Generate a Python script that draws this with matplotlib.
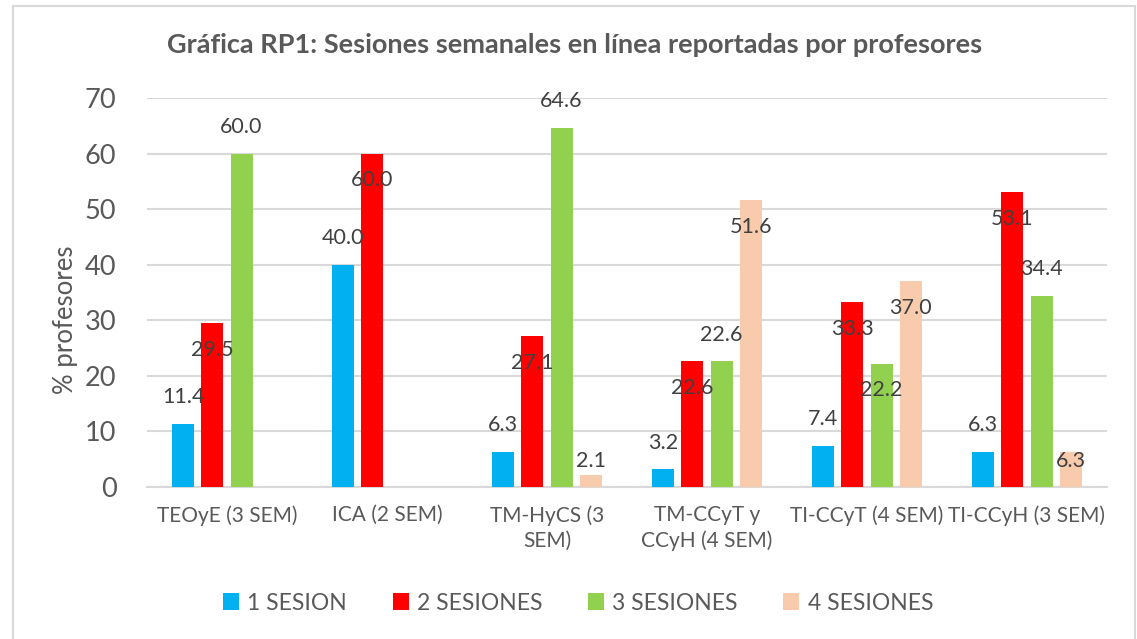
import numpy as np
import matplotlib
matplotlib.use("Agg")
import matplotlib.pyplot as plt
from matplotlib.lines import Line2D

plt.rcParams['font.family'] = ['Lato', 'DejaVu Sans']

categorias = ['TEOyE (3 SEM)', 'ICA (2 SEM)', 'TM-HyCS (3\nSEM)', 'TM-CCyT y\nCCyH (4 SEM)',
              'TI-CCyT (4 SEM)', 'TI-CCyH (3 SEM)']
series = ['1 SESION', '2 SESIONES', '3 SESIONES', '4 SESIONES']
una_sesion = [11.4, 40.0, 6.3, 3.2, 7.4, 6.3]
dos_sesiones = [29.5, 60.0, 27.1, 22.6, 33.3, 53.1]
tres_sesiones = [60.0, np.nan, 64.6, 22.6, 22.2, 34.4]
cuatro_sesiones = [np.nan, np.nan, 2.1, 51.6, 37.0, 6.3]
valores = [una_sesion, dos_sesiones, tres_sesiones, cuatro_sesiones]

colores = ['#00B0F0', '#FF0000', '#92D050', '#F8CBAD']
# +1 etiqueta arriba de la barra, -1 debajo del borde superior
posicion = [[1, 1, 1, 1, 1, 1],
            [-1, -1, -1, -1, -1, -1],
            [1, 1, 1, 1, -1, 1],
            [1, 1, -1, -1, -1, -1]]

gris = '#595959'
fig = plt.figure(figsize=(11.37, 6.39), dpi=100)
ax = fig.add_axes([147 / 1137, 1 - 487 / 639, 960 / 1137, 389 / 639])

x = np.arange(len(categorias))
paso = 0.182
ancho = 0.138
for i, (vals, col) in enumerate(zip(valores, colores)):
    xs = x + (i - 1.5) * paso
    v = np.array(vals)
    ok = ~np.isnan(v)
    ax.bar(xs[ok], v[ok], width=ancho, color=col, label=series[i], zorder=3)
    for xi, vi, p in zip(xs[ok], v[ok], np.array(posicion[i])[ok]):
        y = vi + p * 4.8
        y = max(y, 4.7)
        ax.text(xi, y, f'{vi:.1f}', ha='center', va='center', fontsize=15.5,
                color='#404040', zorder=4)

ax.set_xlim(-0.5, len(categorias) - 0.5)
ax.set_ylim(0, 70)
ax.set_yticks(range(0, 71, 10))
ax.yaxis.grid(True, color='#D9D9D9', linewidth=1.5, zorder=0)
ax.set_xticks(x)
ax.set_xticklabels(categorias, fontsize=15, color=gris, linespacing=1.3, va='top')
ax.tick_params(axis='y', labelsize=19.5, colors=gris, length=0, pad=22)
ax.tick_params(axis='x', length=0, pad=13)
for s in ['top', 'right', 'left']:
    ax.spines[s].set_visible(False)
ax.spines['bottom'].set_color('#D9D9D9')
ax.spines['bottom'].set_linewidth(1.5)
ax.set_ylabel('% profesores', fontsize=18.5, color=gris)
ax.yaxis.set_label_coords(-0.072, 0.43)

fig.text(575 / 1137, 1 - 45 / 639, 'Gráfica RP1: Sesiones semanales en línea reportadas por profesores',
         ha='center', va='center', fontsize=19.5, fontweight='bold', color=gris)

ax.legend(loc='center', bbox_to_anchor=(578 / 1137, 1 - 603 / 639), bbox_transform=fig.transFigure,
          ncol=4, frameon=False, fontsize=16.5, handlelength=0.7, handleheight=0.7,
          columnspacing=2.0, handletextpad=0.35, labelcolor=gris)

# borde del área del gráfico
borde = '#D9D9D9'
fig.add_artist(Line2D([13 / 1137, 13 / 1137], [0, 1 - 6 / 639], color=borde, lw=1.5))
fig.add_artist(Line2D([13 / 1137, 1135 / 1137], [1 - 6 / 639, 1 - 6 / 639], color=borde, lw=1.5))
fig.add_artist(Line2D([1135 / 1137, 1135 / 1137], [0, 1 - 6 / 639], color=borde, lw=1.5))

fig.savefig('out.png', dpi=100, facecolor='white')
